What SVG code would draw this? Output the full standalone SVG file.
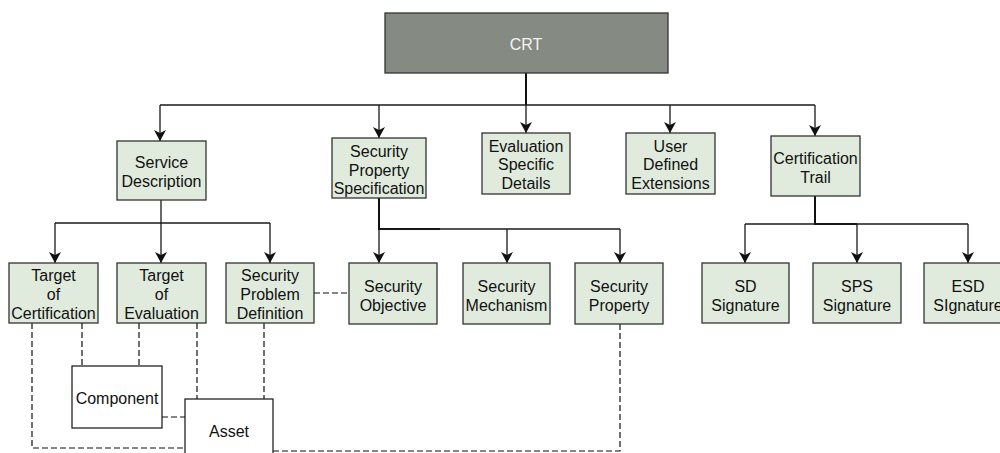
<svg xmlns="http://www.w3.org/2000/svg" width="1000" height="453" viewBox="0 0 1000 453">
  <style>
    .node { fill: #e0ebdd; stroke: #333333; stroke-width: 1.3; }
    .plain { fill: #ffffff; stroke: #111111; stroke-width: 1.2; }
    .root { fill: #858a82; stroke: #333333; stroke-width: 1.3; }
    text { font-family: "Liberation Sans", Arial, sans-serif; font-size: 16px; text-anchor: middle; fill: #111111; }
    .rootlabel { fill: #f4f4f4; }
    .edge { fill: none; stroke: #1a1a1a; stroke-width: 1.3; }
    .thick { fill: none; stroke: #111111; stroke-width: 2; }
    .dash { fill: none; stroke: #111111; stroke-width: 1.2; stroke-dasharray: 6 3; }
  </style>
  <defs>
    <marker id="arrow" viewBox="0 0 12 12" refX="11" refY="6" markerWidth="12" markerHeight="12" markerUnits="userSpaceOnUse" orient="auto">
      <path d="M0,0 L11,6 L0,12 L3,6 z" fill="#111111"/>
    </marker>
  </defs>

  <rect width="1000" height="453" fill="#ffffff"/>

  <!-- connectors -->
  <g id="connectors">
    <!-- CRT to first level -->
    <path class="thick" d="M526,73 V105"/>
    <path class="edge" d="M160,105 H815"/>
    <path class="edge" d="M160,105 V141" marker-end="url(#arrow)"/>
    <path class="edge" d="M379,105 V138" marker-end="url(#arrow)"/>
    <path class="edge" d="M526,105 V133" marker-end="url(#arrow)"/>
    <path class="edge" d="M670,105 V133" marker-end="url(#arrow)"/>
    <path class="edge" d="M815,105 V136" marker-end="url(#arrow)"/>

    <!-- Service Description children -->
    <path class="edge" d="M161,200 V223"/>
    <path class="edge" d="M55,223 H270"/>
    <path class="edge" d="M55,223 V263" marker-end="url(#arrow)"/>
    <path class="edge" d="M161,223 V263" marker-end="url(#arrow)"/>
    <path class="edge" d="M270,223 V263" marker-end="url(#arrow)"/>

    <!-- Security Property Specification children -->
    <path class="thick" d="M379,198 V229 H440"/>
    <path class="edge" d="M379,229 H620"/>
    <path class="edge" d="M379,229 V263" marker-end="url(#arrow)"/>
    <path class="edge" d="M507,229 V263" marker-end="url(#arrow)"/>
    <path class="edge" d="M620,229 V263" marker-end="url(#arrow)"/>

    <!-- Certification Trail children -->
    <path class="thick" d="M815,196 V224 H857"/>
    <path class="edge" d="M745,224 H968"/>
    <path class="edge" d="M745,224 V263" marker-end="url(#arrow)"/>
    <path class="edge" d="M857,224 V263" marker-end="url(#arrow)"/>
    <path class="edge" d="M968,224 V263" marker-end="url(#arrow)"/>

    <!-- dashed associations -->
    <path class="dash" d="M314,293 H349"/>
    <path class="dash" d="M32,323 V448 H185"/>
    <path class="dash" d="M82,323 V366"/>
    <path class="dash" d="M139,323 V366"/>
    <path class="dash" d="M197,323 V399"/>
    <path class="dash" d="M264,323 V399"/>
    <path class="dash" d="M162,417 H185"/>
    <path class="dash" d="M273,451 H620 V324"/>
  </g>

  <!-- root -->
  <g id="crt">
    <rect class="root" x="385" y="13" width="283" height="60"/>
    <text class="rootlabel" x="526" y="50">CRT</text>
  </g>

  <!-- first level -->
  <g id="service-description">
    <rect class="node" x="117" y="141" width="89" height="59"/>
    <text x="161.5" y="168">Service</text>
    <text x="161.5" y="187">Description</text>
  </g>
  <g id="security-property-specification">
    <rect class="node" x="332" y="138" width="94" height="60"/>
    <text x="379" y="157">Security</text>
    <text x="379" y="176">Property</text>
    <text x="379" y="194">Specification</text>
  </g>
  <g id="evaluation-specific-details">
    <rect class="node" x="482" y="133" width="88" height="61"/>
    <text x="526" y="152">Evaluation</text>
    <text x="526" y="170">Specific</text>
    <text x="526" y="189">Details</text>
  </g>
  <g id="user-defined-extensions">
    <rect class="node" x="626" y="133" width="89" height="61"/>
    <text x="670.5" y="152">User</text>
    <text x="670.5" y="170">Defined</text>
    <text x="670.5" y="189">Extensions</text>
  </g>
  <g id="certification-trail">
    <rect class="node" x="771" y="136" width="89" height="60"/>
    <text x="815.5" y="164">Certification</text>
    <text x="815.5" y="183">Trail</text>
  </g>

  <!-- second level -->
  <g id="target-of-certification">
    <rect class="node" x="9" y="263" width="89" height="60"/>
    <text x="53.5" y="281">Target</text>
    <text x="53.5" y="300">of</text>
    <text x="53.5" y="319">Certification</text>
  </g>
  <g id="target-of-evaluation">
    <rect class="node" x="117" y="263" width="89" height="60"/>
    <text x="161.5" y="281">Target</text>
    <text x="161.5" y="300">of</text>
    <text x="161.5" y="319">Evaluation</text>
  </g>
  <g id="security-problem-definition">
    <rect class="node" x="226" y="263" width="88" height="60"/>
    <text x="270" y="281">Security</text>
    <text x="270" y="300">Problem</text>
    <text x="270" y="319">Definition</text>
  </g>
  <g id="security-objective">
    <rect class="node" x="349" y="263" width="88" height="61"/>
    <text x="393" y="292">Security</text>
    <text x="393" y="311">Objective</text>
  </g>
  <g id="security-mechanism">
    <rect class="node" x="463" y="263" width="87" height="61"/>
    <text x="506.5" y="292">Security</text>
    <text x="506.5" y="311">Mechanism</text>
  </g>
  <g id="security-property">
    <rect class="node" x="575" y="263" width="88" height="61"/>
    <text x="619" y="292">Security</text>
    <text x="619" y="311">Property</text>
  </g>
  <g id="sd-signature">
    <rect class="node" x="702" y="263" width="87" height="60"/>
    <text x="745.5" y="292">SD</text>
    <text x="745.5" y="311">Signature</text>
  </g>
  <g id="sps-signature">
    <rect class="node" x="813" y="263" width="88" height="60"/>
    <text x="857" y="292">SPS</text>
    <text x="857" y="311">Signature</text>
  </g>
  <g id="esd-signature">
    <rect class="node" x="924" y="263" width="88" height="60"/>
    <text x="968" y="292">ESD</text>
    <text x="968" y="311">SIgnature</text>
  </g>

  <!-- related entities -->
  <g id="component">
    <rect class="plain" x="72" y="366" width="90" height="62"/>
    <text x="117" y="404">Component</text>
  </g>
  <g id="asset">
    <rect class="plain" x="185" y="399" width="88" height="60"/>
    <text x="229" y="437">Asset</text>
  </g>
</svg>
